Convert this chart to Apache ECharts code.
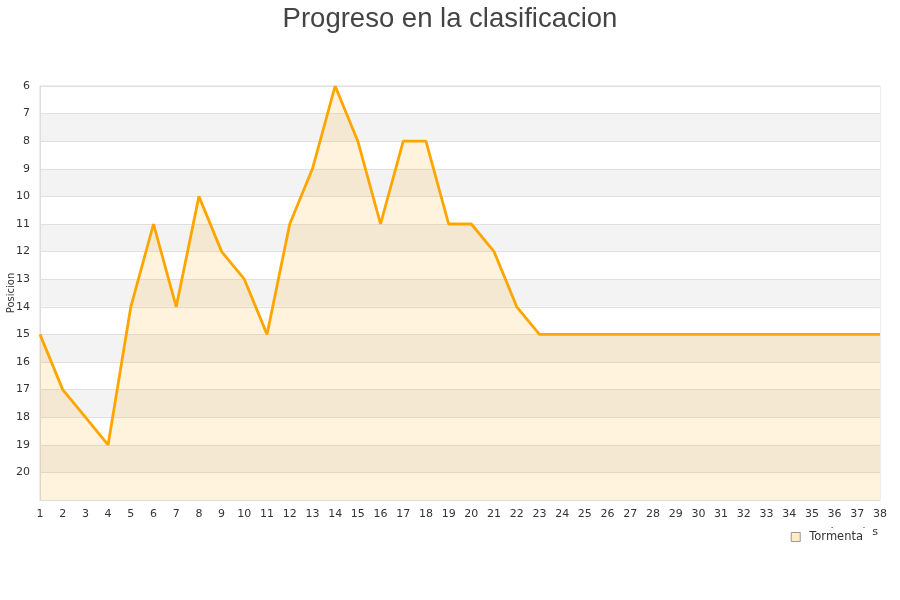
<!DOCTYPE html>
<html><head><meta charset="utf-8">
<script src="https://cdn.jsdelivr.net/npm/echarts@6/dist/echarts.min.js"></script>
<style>html,body{margin:0;padding:0;background:#fff}#c{width:900px;height:600px}</style>
</head><body><div id="c"></div>
<script>
const rounds = Array.from({length:38},(_,i)=>String(i+1));
const positions = [15,17,18,19,14,11,14,10,12,13,15,11,9,6,8,11,8,8,11,11,12,14,15,15,15,15,15,15,15,15,15,15,15,15,15,15,15,15];
const yTicks = [6,7,8,9,10,11,12,13,14,15,16,17,18,19,20];
const seriesName = 'Tormenta';
const chart = echarts.init(document.getElementById('c'));
chart.setOption({
  animation:false,
  title:{text:'Progreso en la clasificacion',left:'center',top:0,textStyle:{fontFamily:'Liberation Sans, Arial, sans-serif',fontSize:27.5,fontWeight:'normal',color:'#444'}},
  grid:{left:40,right:20,top:86,bottom:100,containLabel:false,outerBoundsMode:'none',show:true,borderColor:'#ddd',borderWidth:1,backgroundColor:'transparent'},
  legend:{data:[seriesName],right:28,top:528,icon:'rect',itemWidth:9,itemHeight:9,itemGap:9,padding:[3,9,3,8],backgroundColor:'#fff',z:20,zlevel:0,
    itemStyle:{color:'#FFEBC4',borderColor:'#999',borderWidth:1},
    textStyle:{fontFamily:'DejaVu Sans, sans-serif',fontSize:11.5,color:'#333',padding:[0,0,0,4]}},
  xAxis:{type:'category',data:rounds,boundaryGap:false,name:'Jornadas',nameLocation:'end',nameGap:-2,nameMoveOverlap:false,z:0,
    nameTextStyle:{fontFamily:'DejaVu Sans, sans-serif',fontSize:11,color:'#333',align:'right',verticalAlign:'top',padding:[27,0,0,0]},
    axisLine:{lineStyle:{color:'#ddd'}},axisTick:{show:false},
    axisLabel:{interval:0,color:'#333',fontFamily:'DejaVu Sans, sans-serif',fontSize:11,margin:9},splitLine:{show:false}},
  yAxis:{type:'value',inverse:true,min:6,max:21,interval:1,name:'Posicion',nameLocation:'middle',nameGap:24,nameMoveOverlap:false,
    nameTextStyle:{fontFamily:'DejaVu Sans, sans-serif',fontSize:10,color:'#333'},
    axisLine:{show:true,lineStyle:{color:'#ddd'}},axisTick:{show:false},
    axisLabel:{color:'#333',fontFamily:'DejaVu Sans, sans-serif',fontSize:11,margin:10,formatter:v=>yTicks.includes(v)?String(v):''},
    splitLine:{show:true,lineStyle:{color:'#e0e0e0'}},
    splitArea:{show:true,areaStyle:{color:['#ffffff','#f3f3f3']}}},
  series:[{name:seriesName,type:'line',data:positions,symbol:'none',
    lineStyle:{color:'#FFA500',width:2.8},
    areaStyle:{color:'rgba(255,165,0,0.19)',origin:'end'}}]
});
</script></body></html>
